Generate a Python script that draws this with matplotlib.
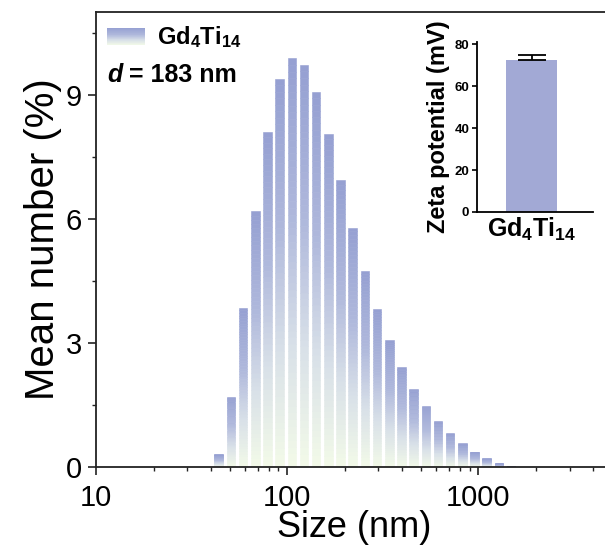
import numpy as np
import matplotlib
matplotlib.use("Agg")
import matplotlib.pyplot as plt
import matplotlib.transforms as mtransforms
from matplotlib.ticker import MultipleLocator, FuncFormatter, NullFormatter, LogLocator
from matplotlib.patches import Rectangle
from matplotlib.colors import LinearSegmentedColormap

plt.rcParams['font.family'] = ['Liberation Sans', 'DejaVu Sans']
plt.rcParams['mathtext.fontset'] = 'custom'
plt.rcParams['mathtext.rm'] = 'Liberation Sans'
plt.rcParams['mathtext.bf'] = 'Liberation Sans:bold'
plt.rcParams['mathtext.it'] = 'Liberation Sans:italic'

# DLS number distribution (size bins in nm, number %)
size_nm = [43.82, 50.75, 58.77, 68.06, 78.82, 91.28, 105.7, 122.4, 141.8,
           164.2, 190.1, 220.2, 255.0, 295.3, 342.0, 396.1, 458.7, 531.2,
           615.1, 712.4, 825.0, 955.4, 1106, 1281, 1484]
number_pct = [0.31, 1.70, 3.85, 6.18, 8.11, 9.38, 9.89, 9.73, 9.06,
              8.06, 6.93, 5.79, 4.74, 3.82, 3.06, 2.42, 1.89, 1.48,
              1.11, 0.82, 0.57, 0.37, 0.21, 0.09, 0.02]
sample_label = r"Gd$_\mathbf{4}$Ti$_\mathbf{14}$"
mean_diameter = 183

# zeta potential (mV)
zeta_mean = [72.4]
zeta_sd = [2.6]

grad = LinearSegmentedColormap.from_list(
    'dls', [(0.0, '#F3FAE8'), (0.3, '#D8E0E8'), (0.6, '#B0B9DC'), (1.0, '#95A0D2')])

fig = plt.figure(figsize=(6.05, 5.45), dpi=100)
ax = fig.add_axes([96 / 605, 78 / 545, 516 / 605, 455 / 545])
ax.set_xscale('log')
ax.set_xlim(10, 5000)
ax.set_ylim(0, 11)

sizes = np.array(size_nm)
vals = np.array(number_pct)
step = np.median(np.diff(np.log10(sizes)))
lefts = sizes * 10 ** (-0.35 * step)
widths = sizes * 10 ** (0.35 * step) - lefts

# vertical gradient in each bar, built from stacked slices
n = 60
for k in range(n):
    c = grad((k + 0.5) / n)
    ax.bar(lefts, vals / n, bottom=vals * k / n, width=widths, align='edge',
           color=c, edgecolor=c, linewidth=0.4)

# legend swatch with the same gradient
lx0, lx1, ly0, ly1 = 0.021, 0.095, 0.927, 0.965
for k in range(n):
    c = grad((k + 0.5) / n)
    ax.add_patch(Rectangle((lx0, ly0 + (ly1 - ly0) * k / n), lx1 - lx0,
                           (ly1 - ly0) / n * 1.05, transform=ax.transAxes,
                           facecolor=c, edgecolor='none'))
ax.text(0.118, 0.946, sample_label, transform=ax.transAxes, fontsize=17,
        fontweight='bold', va='center', ha='left')
ax.text(0.021, 0.861, "d", transform=ax.transAxes, fontsize=18,
        fontweight='bold', fontstyle='italic', va='center', ha='left')
ax.annotate(f" = {mean_diameter} nm", xy=(0.021, 0.861), xycoords='axes fraction',
            xytext=(11, 0), textcoords='offset points', fontsize=18,
            fontweight='bold', va='center', ha='left')

ax.xaxis.set_major_locator(LogLocator(base=10))
ax.xaxis.set_major_formatter(FuncFormatter(lambda v, p: f"{v:g}"))
ax.xaxis.set_minor_formatter(NullFormatter())
ax.set_yticks([0, 3, 6, 9])
ax.yaxis.set_minor_locator(MultipleLocator(1.5))

ax.tick_params(axis='both', which='major', direction='out', length=6, width=1.2,
               labelsize=21, color='#222222')
ax.tick_params(axis='both', which='minor', direction='out', length=3.2, width=1.0,
               color='#222222')
ax.tick_params(axis='x', which='major', pad=6)
ax.tick_params(axis='y', which='major', pad=4)
for side in ['left', 'bottom', 'top']:
    ax.spines[side].set_linewidth(1.3)
    ax.spines[side].set_color('#222222')
ax.spines['right'].set_visible(False)

ax.set_xlabel("Size (nm)", fontsize=26, labelpad=-1)
ax.set_ylabel("Mean number (%)", fontsize=29, labelpad=3)

# inset: zeta potential
axi = fig.add_axes([477 / 605, (545 - 212) / 545, 116 / 605, 170 / 545])
axi.patch.set_alpha(0)
axi.bar([0], zeta_mean, width=1.0, color='#A2A9D5')
axi.errorbar([0], zeta_mean, yerr=[[0], zeta_sd], fmt='none', ecolor='black',
             elinewidth=1.3, capsize=10, capthick=1.3)
axi.set_xlim(-1.07, 1.2)
axi.set_ylim(0, 81)
axi.set_yticks([0, 20, 40, 60, 80])
axi.set_xticks([0])
axi.set_xticklabels([sample_label], fontsize=18, fontweight='bold')
shift = mtransforms.ScaledTranslation(9 / 72, 0, fig.dpi_scale_trans)
for lab in axi.get_xticklabels():
    lab.set_transform(lab.get_transform() + shift)
axi.tick_params(axis='x', length=0, pad=3)
axi.tick_params(axis='y', direction='out', length=3.5, width=1.2, labelsize=9.5, pad=2)
for lab in axi.get_yticklabels():
    lab.set_fontweight('bold')
for side in ['top', 'right']:
    axi.spines[side].set_visible(False)
for side in ['left', 'bottom']:
    axi.spines[side].set_linewidth(1.3)
axi.set_ylabel("Zeta potential (mV)", fontsize=17, fontweight='bold', labelpad=3)

fig.savefig("out.png", dpi=100)
